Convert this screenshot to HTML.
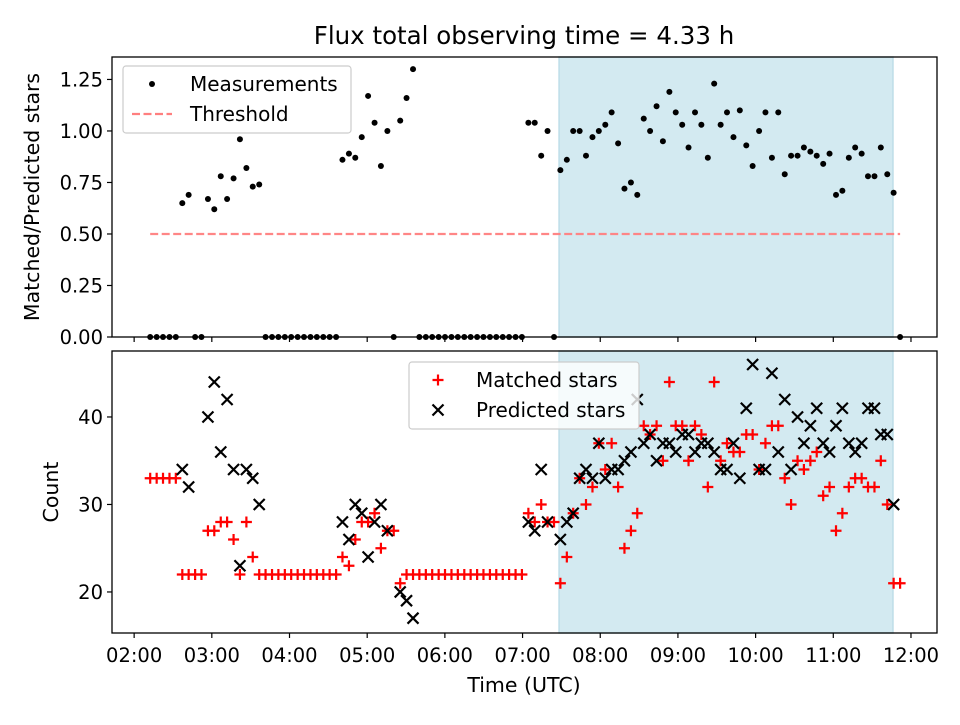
<!DOCTYPE html>
<html><head><meta charset="utf-8"><style>
html,body{margin:0;padding:0;background:#fff;}
svg text{font-family:"DejaVu Sans","Liberation Sans",sans-serif;fill:#000;}
</style></head><body>
<svg id="chart" width="960" height="720" viewBox="0 0 960 720" xmlns="http://www.w3.org/2000/svg">
<rect x="0" y="0" width="960" height="720" fill="#fff"/>
<text x="524" y="44" font-size="24.5" text-anchor="middle">Flux total observing time = 4.33 h</text>
<g id="top"></g>
<g id="bot"></g>
<text transform="translate(39,197) rotate(-90)" font-size="20.5" text-anchor="middle">Matched/Predicted stars</text>
<text transform="translate(58,492) rotate(-90)" font-size="20.5" text-anchor="middle">Count</text>
<text x="524" y="692" font-size="20.5" text-anchor="middle">Time (UTC)</text>
</svg>
<script>
const times=[132.4,137.4,142.3,147.3,152.2,157.2,162.1,167.1,172.0,177.0,
181.9,186.9,191.8,196.8,201.7,206.7,211.6,216.6,221.5,226.5,
231.4,236.4,241.3,246.3,251.2,256.2,261.1,266.1,271.0,276.0,
280.9,285.9,290.8,295.8,300.7,305.7,310.6,315.6,320.5,325.5,
330.4,335.4,340.3,345.3,350.2,355.2,360.1,365.1,370.0,375.0,
379.9,384.9,389.8,394.8,399.7,404.7,409.6,414.6,419.5,424.5,
429.4,434.4,439.3,444.3,449.2,454.2,459.1,464.1,469.0,474.0,
478.9,483.9,488.8,493.8,498.7,503.7,508.6,513.6,518.5,523.5,
528.4,533.4,538.3,543.3,548.2,553.2,558.1,563.1,568.0,573.0,
577.9,582.9,587.8,592.8,597.7,602.7,607.6,612.6,617.5,622.5,
627.4,632.4,637.3,642.3,647.2,652.2,657.1,662.1,667.0,672.0,
676.9,681.9,686.8,691.8,696.7,701.7,706.6,711.6];
const ratio=[0,0,0,0,0,0.65,0.69,0,0,0.67,
0.62,0.78,0.67,0.77,0.96,0.82,0.73,0.74,0,0,
0,0,0,0,0,0,0,0,0,0,
0.86,0.89,0.87,0.97,1.17,1.04,0.83,1.00,0,1.05,
1.16,1.30,0,0,0,0,0,0,0,0,
0,0,0,0,0,0,0,0,0,1.04,
1.04,0.88,1.00,0,0.81,0.86,1.00,1.00,0.88,0.97,
1.00,1.03,1.09,0.94,0.72,0.75,0.69,1.06,1.00,1.12,
0.95,1.19,1.09,1.03,0.92,1.09,1.03,0.87,1.23,1.03,
1.09,0.97,1.10,0.93,0.83,1.00,1.09,0.87,1.09,0.79,
0.88,0.88,0.92,0.90,0.88,0.84,0.89,0.69,0.71,0.87,
0.92,0.89,0.78,0.78,0.92,0.79,0.70,0];
const matched=[33,33,33,33,33,22,22,22,22,27,
27,28,28,26,22,28,24,22,22,22,
22,22,22,22,22,22,22,22,22,22,
24,23,26,28,28,29,25,27,27,21,
22,22,22,22,22,22,22,22,22,22,
22,22,22,22,22,22,22,22,22,29,
28,30,28,28,21,24,29,33,30,32,
37,34,37,32,25,27,29,39,38,39,
35,44,39,39,35,39,38,32,44,35,
37,36,36,38,38,34,37,39,39,33,
30,35,34,35,36,31,32,27,29,32,
33,33,32,32,35,30,21,21];
const predicted=[null,null,null,null,null,34,32,null,null,40,
44,36,42,34,23,34,33,30,null,null,
null,null,null,null,null,null,null,null,null,null,
28,26,30,29,24,28,30,27,null,20,
19,17,null,null,null,null,null,null,null,null,
null,null,null,null,null,null,null,null,null,28,
27,34,28,null,26,28,29,33,34,33,
37,33,34,34,35,36,42,37,38,35,
37,37,36,38,38,36,37,37,36,34,
34,37,33,41,46,34,34,45,36,42,
34,40,37,39,41,37,36,39,41,37,
36,37,41,41,38,38,30,null];
const thresholdValue=0.5;
const thresholdRange=[132.4,711.6];
const spanRange=[448.2,706.1];
const xTickLabels=["02:00","03:00","04:00","05:00","06:00","07:00","08:00","09:00","10:00","11:00","12:00"];
const xTickMinutes=[120,180,240,300,360,420,480,540,600,660,720];
const topYTicks=[0,0.25,0.5,0.75,1.0,1.25];
const botYTicks=[20,30,40];

const NS="http://www.w3.org/2000/svg";
const AX={l:112,r:937};
const TOP={t:57,b:337,min:0,max:1.359};
const BOT={t:351,b:633,min:15.31,max:47.54};
const XMIN=102.9,XMAX=740.1;
function X(m){return AX.l+(m-XMIN)/(XMAX-XMIN)*(AX.r-AX.l);}
function YT(v){return TOP.b-(v-TOP.min)/(TOP.max-TOP.min)*(TOP.b-TOP.t);}
function YB(v){return BOT.b-(v-BOT.min)/(BOT.max-BOT.min)*(BOT.b-BOT.t);}
function mk(tag,attrs,parent){const e=document.createElementNS(NS,tag);for(const k in attrs)e.setAttribute(k,attrs[k]);parent.appendChild(e);return e;}
const gT=document.getElementById('top'),gB=document.getElementById('bot');

function frame(g,P,name){
  let s=mk('rect',{x:X(spanRange[0]),y:P.t,width:X(spanRange[1])-X(spanRange[0]),height:P.b-P.t,fill:'rgb(211,234,241)',stroke:'rgb(190,222,232)','stroke-width':1.5},g);
  
  
}
frame(gT,TOP,'top');frame(gB,BOT,'bottom');

let th=mk('line',{x1:X(thresholdRange[0]),x2:X(thresholdRange[1]),y1:YT(thresholdValue),y2:YT(thresholdValue),stroke:'#ff7f7f','stroke-width':2.2,'stroke-dasharray':'8,3.5','stroke-opacity':0.95},gT);



for(let i=0;i<times.length;i++){
  if(ratio[i]===null)continue;
  const c=mk('circle',{cx:X(times[i]),cy:YT(ratio[i]),r:3,fill:'#000'},gT);
  
  
}
const h=5.5;
for(let i=0;i<times.length;i++){
  if(matched[i]!==null){
    const x=X(times[i]),y=YB(matched[i]);
    const p=mk('path',{d:`M${x-h},${y}H${x+h}M${x},${y-h}V${y+h}`,stroke:'#ff0000','stroke-width':2.2,fill:'none'},gB);
    
    
  }
}
for(let i=0;i<times.length;i++){
  if(predicted[i]!==null){
    const x=X(times[i]),y=YB(predicted[i]);
    const p=mk('path',{d:`M${x-h},${y-h}L${x+h},${y+h}M${x-h},${y+h}L${x+h},${y-h}`,stroke:'#000','stroke-width':2.2,fill:'none'},gB);
    
    
  }
}

function axes(g,P,name,yTicks,Yf,fmt,labelsX){
  const b=mk('rect',{x:AX.l,y:P.t,width:AX.r-AX.l,height:P.b-P.t,fill:'none',stroke:'#000','stroke-width':1.3},g);
  
  
  xTickMinutes.forEach((m,k)=>{
    const x=X(m);
    const t=mk('line',{x1:x,x2:x,y1:P.b,y2:P.b+5,stroke:'#000','stroke-width':1.2},g);
    
    
    if(labelsX){
      const tx=mk('text',{x:x,y:P.b+29,'font-size':19.5,'text-anchor':'middle'},g);
      tx.textContent=xTickLabels[k];
      
      
    }
  });
  yTicks.forEach(v=>{
    const y=Yf(v);
    const t=mk('line',{x1:AX.l-5,x2:AX.l,y1:y,y2:y,stroke:'#000','stroke-width':1.2},g);
    
    
    const tx=mk('text',{x:AX.l-9,y:y+7,'font-size':19.5,'text-anchor':'end'},g);
    tx.textContent=fmt(v);
    
    
  });
}
axes(gT,TOP,'top',topYTicks,YT,v=>v.toFixed(2),false);
axes(gB,BOT,'bottom',botYTicks,YB,v=>String(v),true);

function legend(g,x,y,w,hh,name){
  const r=mk('rect',{x:x,y:y,width:w,height:hh,rx:3,fill:'#fff','fill-opacity':0.8,stroke:'#ccc','stroke-width':1.2},g);
  
  
}
legend(gT,123,66,228,67,'top-legend');
let e=mk('circle',{cx:152,cy:84,r:3,fill:'#000'},gT);


e=mk('text',{x:190,y:91,'font-size':20},gT);e.textContent='Measurements';


e=mk('line',{x1:132,x2:172,y1:114,y2:114,stroke:'#ff7f7f','stroke-width':2.2,'stroke-dasharray':'8,3.5'},gT);


e=mk('text',{x:190,y:121,'font-size':20},gT);e.textContent='Threshold';



legend(gB,409,362,230,67,'bottom-legend');
e=mk('path',{d:'M432.5,380H443.5M438,374.5V385.5',stroke:'#ff0000','stroke-width':2.2,fill:'none'},gB);


e=mk('text',{x:476,y:387,'font-size':20},gB);e.textContent='Matched stars';


e=mk('path',{d:'M432.5,404.5L443.5,415.5M432.5,415.5L443.5,404.5',stroke:'#000','stroke-width':2.2,fill:'none'},gB);


e=mk('text',{x:476,y:417,'font-size':20},gB);e.textContent='Predicted stars';


</script>
</body></html>
